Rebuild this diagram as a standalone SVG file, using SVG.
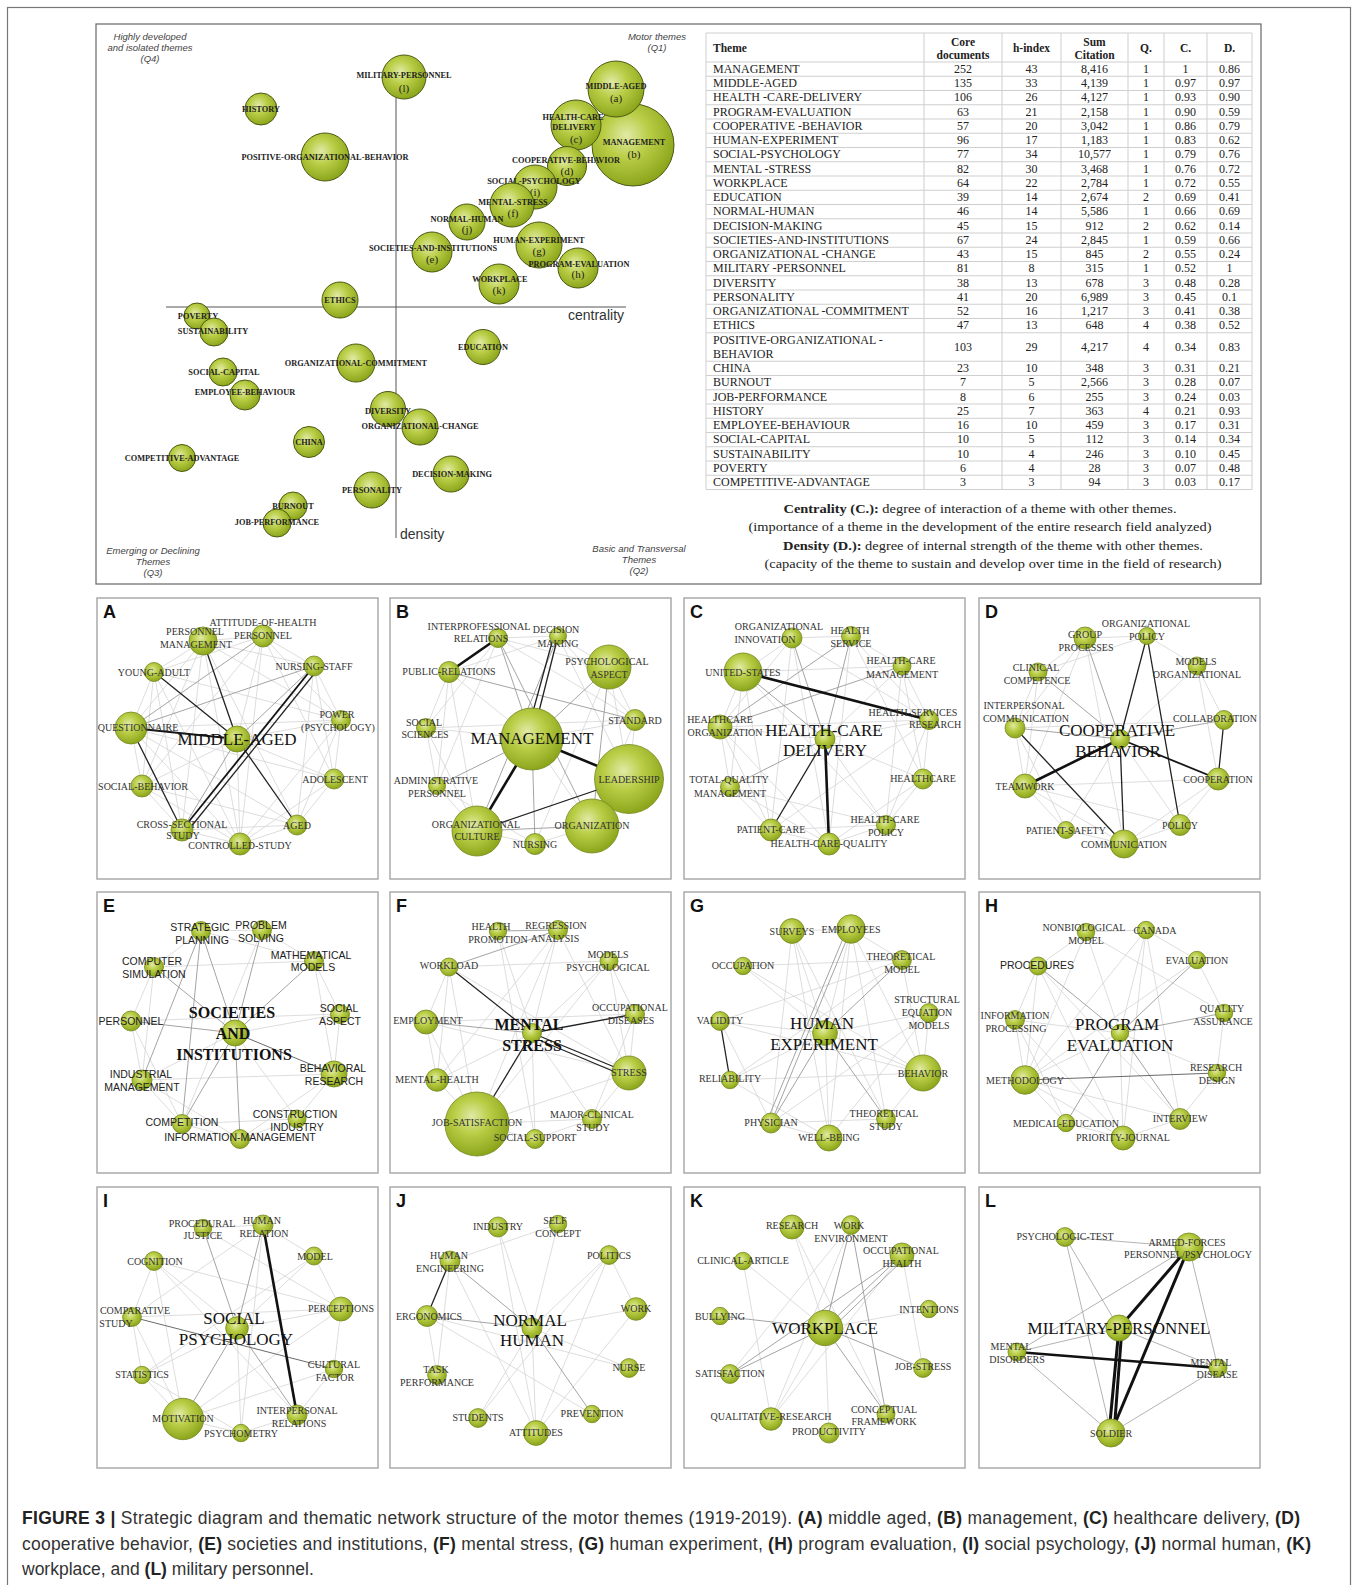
<svg xmlns="http://www.w3.org/2000/svg" width="1356" height="1585" viewBox="0 0 1356 1585">
<defs>
<radialGradient id="gr" cx="0.42" cy="0.38" r="0.62">
<stop offset="0" stop-color="#e1eaa6"/>
<stop offset="0.45" stop-color="#b9cd45"/>
<stop offset="1" stop-color="#8ca61c"/>
</radialGradient>
<style>
.frame{fill:none;stroke:#777;stroke-width:1.2}
.sbox{fill:#fff;stroke:#666;stroke-width:1.2}
.pbox{fill:#fff;stroke:#aaa;stroke-width:1.5}
.n{fill:url(#gr);stroke:#74891f;stroke-width:0.8}
.sn{fill:url(#gr);stroke:#4a5a12;stroke-width:1}
.l{stroke:#d4d4d4;stroke-width:0.8}
.m{stroke:#9a9a9a;stroke-width:0.9}
.m2{stroke:#6a6a6a;stroke-width:1}
.d{stroke:#222;stroke-width:1.3}
.d2{stroke:#151515;stroke-width:1.8}
.t{stroke:#111;stroke-width:2.6}
.lg{stroke:#aaa;stroke-width:0.9}
.tt{stroke:#111;stroke-width:3}
text{font-family:"Liberation Serif","Times New Roman",serif}
.nl,.nl tspan{font-size:10px;fill:#333;text-anchor:middle;dominant-baseline:central}
.ns,.ns tspan{font-family:"Liberation Sans",Arial,sans-serif;font-size:10.5px;fill:#222;text-anchor:middle;dominant-baseline:central}
.cl,.cl tspan{font-size:17px;fill:#111;text-anchor:middle;dominant-baseline:central}
.cb,.cb tspan{font-size:16px;font-weight:bold;fill:#111;text-anchor:middle;dominant-baseline:central}
.pl{font-family:"Liberation Sans",Arial,sans-serif;font-weight:bold;font-size:18px;fill:#111}
.sl{font-size:8.3px;font-weight:bold;fill:#222;text-anchor:middle;dominant-baseline:central}
.sk{font-size:11px;fill:#222;text-anchor:middle;dominant-baseline:central}
.q{font-family:"Liberation Sans",Arial,sans-serif;font-style:italic;font-size:9.5px;fill:#444;text-anchor:middle}
.ax{stroke:#555;stroke-width:1}
.axl{font-family:"Liberation Sans",Arial,sans-serif;font-size:14px;fill:#333}
.tb text{font-size:12px;fill:#222}
.tn text{text-anchor:middle}
.th text{font-size:11.5px;font-weight:bold;fill:#222}
.grid{stroke:#cfcfcf;stroke-width:1;fill:none}
.lgd{font-size:13px;fill:#222;text-anchor:middle}
.cap{font-family:"Liberation Sans",Arial,sans-serif;font-size:17.5px;fill:#333}
.b{font-weight:bold;fill:#222}
</style>
</defs>
<rect width="1356" height="1585" fill="#fff"/>
<rect class="frame" x="7.5" y="7.5" width="1343" height="1600"/>

<g id="strategic">
<rect class="sbox" x="96" y="24" width="1165" height="560"/>
<g id="quadrant-labels">
<text class="q" x="150" y="40">Highly developed</text>
<text class="q" x="150" y="51">and isolated themes</text>
<text class="q" x="150" y="62">(Q4)</text>
<text class="q" x="657" y="40">Motor themes</text>
<text class="q" x="657" y="51">(Q1)</text>
<text class="q" x="153" y="554">Emerging or Declining</text>
<text class="q" x="153" y="565">Themes</text>
<text class="q" x="153" y="576">(Q3)</text>
<text class="q" x="639" y="552">Basic and Transversal</text>
<text class="q" x="639" y="563">Themes</text>
<text class="q" x="639" y="574">(Q2)</text>
</g>
<g id="axes">
<line class="ax" x1="166" y1="307" x2="626" y2="307"/>
<line class="ax" x1="396" y1="85" x2="396" y2="538"/>
<text class="axl" x="568" y="320">centrality</text>
<text class="axl" x="400" y="539">density</text>
</g>
<g id="s-history"><circle class="sn" cx="261" cy="109" r="16"/><text class="sl" x="261" y="109">HISTORY</text></g>
<g id="s-positive-organizational-behavior"><circle class="sn" cx="325" cy="157" r="24"/><text class="sl" x="325" y="157">POSITIVE-ORGANIZATIONAL-BEHAVIOR</text></g>
<g id="s-military-personnel"><circle class="sn" cx="404" cy="77" r="22"/><text class="sl" x="404" y="75">MILITARY-PERSONNEL</text><text class="sk" x="404" y="88">(l)</text></g>
<g id="s-management"><circle class="sn" cx="633" cy="145" r="41"/><text class="sl" x="634" y="142">MANAGEMENT</text><text class="sk" x="634" y="154">(b)</text></g>
<g id="s-middle-aged"><circle class="sn" cx="616" cy="89" r="28"/><text class="sl" x="616" y="86">MIDDLE-AGED</text><text class="sk" x="616" y="98">(a)</text></g>
<g id="s-health-care-delivery"><circle class="sn" cx="576" cy="125" r="25"/><text class="sl" x="573" y="117">HEALTH-CARE</text><text class="sl" x="574" y="127">DELIVERY</text><text class="sk" x="576" y="139">(c)</text></g>
<g id="s-cooperative-behavior"><circle class="sn" cx="567" cy="166" r="19.5"/><text class="sl" x="566" y="160">COOPERATIVE-BEHAVIOR</text><text class="sk" x="567" y="171">(d)</text></g>
<g id="s-social-psychology"><circle class="sn" cx="535" cy="187" r="22"/><text class="sl" x="534" y="181">SOCIAL-PSYCHOLOGY</text><text class="sk" x="535" y="192">(i)</text></g>
<g id="s-mental-stress"><circle class="sn" cx="512" cy="205" r="22"/><text class="sl" x="513" y="202">MENTAL-STRESS</text><text class="sk" x="513" y="213">(f)</text></g>
<g id="s-normal-human"><circle class="sn" cx="467" cy="222" r="18"/><text class="sl" x="467" y="219">NORMAL-HUMAN</text><text class="sk" x="467" y="229">(j)</text></g>
<g id="s-societies-and-institutions"><circle class="sn" cx="432" cy="252" r="20"/><text class="sl" x="433" y="248">SOCIETIES-AND-INSTITUTIONS</text><text class="sk" x="432" y="259">(e)</text></g>
<g id="s-human-experiment"><circle class="sn" cx="539" cy="245" r="23"/><text class="sl" x="539" y="240">HUMAN-EXPERIMENT</text><text class="sk" x="539" y="251">(g)</text></g>
<g id="s-program-evaluation"><circle class="sn" cx="578" cy="268" r="20"/><text class="sl" x="579" y="264">PROGRAM-EVALUATION</text><text class="sk" x="578" y="274">(h)</text></g>
<g id="s-workplace"><circle class="sn" cx="499" cy="284" r="20"/><text class="sl" x="500" y="279">WORKPLACE</text><text class="sk" x="499" y="290">(k)</text></g>
<g id="s-ethics"><circle class="sn" cx="340" cy="300" r="18"/><text class="sl" x="340" y="300">ETHICS</text></g>
<g id="s-poverty"><circle class="sn" cx="197" cy="316" r="13"/><text class="sl" x="198" y="316">POVERTY</text></g>
<g id="s-sustainability"><circle class="sn" cx="214" cy="332" r="14"/><text class="sl" x="213" y="331">SUSTAINABILITY</text></g>
<g id="s-education"><circle class="sn" cx="483" cy="347" r="17.5"/><text class="sl" x="483" y="347">EDUCATION</text></g>
<g id="s-organizational-commitment"><circle class="sn" cx="356" cy="363" r="19"/><text class="sl" x="356" y="363">ORGANIZATIONAL-COMMITMENT</text></g>
<g id="s-social-capital"><circle class="sn" cx="223" cy="372" r="14"/><text class="sl" x="224" y="372">SOCIAL-CAPITAL</text></g>
<g id="s-employee-behaviour"><circle class="sn" cx="245" cy="395" r="15"/><text class="sl" x="245" y="392">EMPLOYEE-BEHAVIOUR</text></g>
<g id="s-diversity"><circle class="sn" cx="388" cy="409" r="17.5"/><text class="sl" x="388" y="411">DIVERSITY</text></g>
<g id="s-organizational-change"><circle class="sn" cx="420" cy="427" r="18"/><text class="sl" x="420" y="426">ORGANIZATIONAL-CHANGE</text></g>
<g id="s-china"><circle class="sn" cx="309" cy="442" r="15.5"/><text class="sl" x="309" y="442">CHINA</text></g>
<g id="s-competitive-advantage"><circle class="sn" cx="182" cy="458" r="13.5"/><text class="sl" x="182" y="458">COMPETITIVE-ADVANTAGE</text></g>
<g id="s-decision-making"><circle class="sn" cx="451" cy="474" r="18"/><text class="sl" x="452" y="474">DECISION-MAKING</text></g>
<g id="s-personality"><circle class="sn" cx="372" cy="490" r="18"/><text class="sl" x="372" y="490">PERSONALITY</text></g>
<g id="s-burnout"><circle class="sn" cx="293" cy="506" r="14"/><text class="sl" x="293" y="506">BURNOUT</text></g>
<g id="s-job-performance"><circle class="sn" cx="277" cy="523" r="14"/><text class="sl" x="277" y="522">JOB-PERFORMANCE</text></g>

<g id="table">
<path class="grid" d="M706 33H1252M706 62H1252M706 76.25H1252M706 90.5H1252M706 104.75H1252M706 119H1252M706 133.25H1252M706 147.5H1252M706 161.75H1252M706 176H1252M706 190.25H1252M706 204.5H1252M706 218.75H1252M706 233H1252M706 247.25H1252M706 261.5H1252M706 275.75H1252M706 290H1252M706 304.25H1252M706 318.5H1252M706 332.75H1252M706 361.25H1252M706 375.5H1252M706 389.75H1252M706 404H1252M706 418.25H1252M706 432.5H1252M706 446.75H1252M706 461H1252M706 475.25H1252M706 489.5H1252M706 33V489.5M924 33V489.5M1002 33V489.5M1061 33V489.5M1128 33V489.5M1164 33V489.5M1207 33V489.5M1252 33V489.5"/>
<g class="th">
<text x="713" y="52">Theme</text>
<text x="963" y="45.5" text-anchor="middle">Core</text>
<text x="963" y="58.5" text-anchor="middle">documents</text>
<text x="1031.5" y="52" text-anchor="middle">h-index</text>
<text x="1094.5" y="45.5" text-anchor="middle">Sum</text>
<text x="1094.5" y="58.5" text-anchor="middle">Citation</text>
<text x="1146" y="52" text-anchor="middle">Q.</text>
<text x="1185.5" y="52" text-anchor="middle">C.</text>
<text x="1229.5" y="52" text-anchor="middle">D.</text>
</g>
<g class="tb">
<text x="713" y="72.8">MANAGEMENT</text>
<text x="713" y="87.05">MIDDLE-AGED</text>
<text x="713" y="101.3">HEALTH -CARE-DELIVERY</text>
<text x="713" y="115.55">PROGRAM-EVALUATION</text>
<text x="713" y="129.8">COOPERATIVE -BEHAVIOR</text>
<text x="713" y="144.05">HUMAN-EXPERIMENT</text>
<text x="713" y="158.3">SOCIAL-PSYCHOLOGY</text>
<text x="713" y="172.55">MENTAL -STRESS</text>
<text x="713" y="186.8">WORKPLACE</text>
<text x="713" y="201.05">EDUCATION</text>
<text x="713" y="215.3">NORMAL-HUMAN</text>
<text x="713" y="229.55">DECISION-MAKING</text>
<text x="713" y="243.8">SOCIETIES-AND-INSTITUTIONS</text>
<text x="713" y="258.05">ORGANIZATIONAL -CHANGE</text>
<text x="713" y="272.3">MILITARY -PERSONNEL</text>
<text x="713" y="286.55">DIVERSITY</text>
<text x="713" y="300.8">PERSONALITY</text>
<text x="713" y="315.05">ORGANIZATIONAL -COMMITMENT</text>
<text x="713" y="329.3">ETHICS</text>
<text x="713" y="343.5">POSITIVE-ORGANIZATIONAL -</text>
<text x="713" y="357.8">BEHAVIOR</text>
<text x="713" y="372.05">CHINA</text>
<text x="713" y="386.3">BURNOUT</text>
<text x="713" y="400.55">JOB-PERFORMANCE</text>
<text x="713" y="414.8">HISTORY</text>
<text x="713" y="429.05">EMPLOYEE-BEHAVIOUR</text>
<text x="713" y="443.3">SOCIAL-CAPITAL</text>
<text x="713" y="457.55">SUSTAINABILITY</text>
<text x="713" y="471.8">POVERTY</text>
<text x="713" y="486.05">COMPETITIVE-ADVANTAGE</text>
</g>
<g class="tb tn">
<text x="963" y="72.8">252</text><text x="1031.5" y="72.8">43</text><text x="1094.5" y="72.8">8,416</text><text x="1146" y="72.8">1</text><text x="1185.5" y="72.8">1</text><text x="1229.5" y="72.8">0.86</text>
<text x="963" y="87.05">135</text><text x="1031.5" y="87.05">33</text><text x="1094.5" y="87.05">4,139</text><text x="1146" y="87.05">1</text><text x="1185.5" y="87.05">0.97</text><text x="1229.5" y="87.05">0.97</text>
<text x="963" y="101.3">106</text><text x="1031.5" y="101.3">26</text><text x="1094.5" y="101.3">4,127</text><text x="1146" y="101.3">1</text><text x="1185.5" y="101.3">0.93</text><text x="1229.5" y="101.3">0.90</text>
<text x="963" y="115.55">63</text><text x="1031.5" y="115.55">21</text><text x="1094.5" y="115.55">2,158</text><text x="1146" y="115.55">1</text><text x="1185.5" y="115.55">0.90</text><text x="1229.5" y="115.55">0.59</text>
<text x="963" y="129.8">57</text><text x="1031.5" y="129.8">20</text><text x="1094.5" y="129.8">3,042</text><text x="1146" y="129.8">1</text><text x="1185.5" y="129.8">0.86</text><text x="1229.5" y="129.8">0.79</text>
<text x="963" y="144.05">96</text><text x="1031.5" y="144.05">17</text><text x="1094.5" y="144.05">1,183</text><text x="1146" y="144.05">1</text><text x="1185.5" y="144.05">0.83</text><text x="1229.5" y="144.05">0.62</text>
<text x="963" y="158.3">77</text><text x="1031.5" y="158.3">34</text><text x="1094.5" y="158.3">10,577</text><text x="1146" y="158.3">1</text><text x="1185.5" y="158.3">0.79</text><text x="1229.5" y="158.3">0.76</text>
<text x="963" y="172.55">82</text><text x="1031.5" y="172.55">30</text><text x="1094.5" y="172.55">3,468</text><text x="1146" y="172.55">1</text><text x="1185.5" y="172.55">0.76</text><text x="1229.5" y="172.55">0.72</text>
<text x="963" y="186.8">64</text><text x="1031.5" y="186.8">22</text><text x="1094.5" y="186.8">2,784</text><text x="1146" y="186.8">1</text><text x="1185.5" y="186.8">0.72</text><text x="1229.5" y="186.8">0.55</text>
<text x="963" y="201.05">39</text><text x="1031.5" y="201.05">14</text><text x="1094.5" y="201.05">2,674</text><text x="1146" y="201.05">2</text><text x="1185.5" y="201.05">0.69</text><text x="1229.5" y="201.05">0.41</text>
<text x="963" y="215.3">46</text><text x="1031.5" y="215.3">14</text><text x="1094.5" y="215.3">5,586</text><text x="1146" y="215.3">1</text><text x="1185.5" y="215.3">0.66</text><text x="1229.5" y="215.3">0.69</text>
<text x="963" y="229.55">45</text><text x="1031.5" y="229.55">15</text><text x="1094.5" y="229.55">912</text><text x="1146" y="229.55">2</text><text x="1185.5" y="229.55">0.62</text><text x="1229.5" y="229.55">0.14</text>
<text x="963" y="243.8">67</text><text x="1031.5" y="243.8">24</text><text x="1094.5" y="243.8">2,845</text><text x="1146" y="243.8">1</text><text x="1185.5" y="243.8">0.59</text><text x="1229.5" y="243.8">0.66</text>
<text x="963" y="258.05">43</text><text x="1031.5" y="258.05">15</text><text x="1094.5" y="258.05">845</text><text x="1146" y="258.05">2</text><text x="1185.5" y="258.05">0.55</text><text x="1229.5" y="258.05">0.24</text>
<text x="963" y="272.3">81</text><text x="1031.5" y="272.3">8</text><text x="1094.5" y="272.3">315</text><text x="1146" y="272.3">1</text><text x="1185.5" y="272.3">0.52</text><text x="1229.5" y="272.3">1</text>
<text x="963" y="286.55">38</text><text x="1031.5" y="286.55">13</text><text x="1094.5" y="286.55">678</text><text x="1146" y="286.55">3</text><text x="1185.5" y="286.55">0.48</text><text x="1229.5" y="286.55">0.28</text>
<text x="963" y="300.8">41</text><text x="1031.5" y="300.8">20</text><text x="1094.5" y="300.8">6,989</text><text x="1146" y="300.8">3</text><text x="1185.5" y="300.8">0.45</text><text x="1229.5" y="300.8">0.1</text>
<text x="963" y="315.05">52</text><text x="1031.5" y="315.05">16</text><text x="1094.5" y="315.05">1,217</text><text x="1146" y="315.05">3</text><text x="1185.5" y="315.05">0.41</text><text x="1229.5" y="315.05">0.38</text>
<text x="963" y="329.3">47</text><text x="1031.5" y="329.3">13</text><text x="1094.5" y="329.3">648</text><text x="1146" y="329.3">4</text><text x="1185.5" y="329.3">0.38</text><text x="1229.5" y="329.3">0.52</text>
<text x="963" y="350.7">103</text><text x="1031.5" y="350.7">29</text><text x="1094.5" y="350.7">4,217</text><text x="1146" y="350.7">4</text><text x="1185.5" y="350.7">0.34</text><text x="1229.5" y="350.7">0.83</text>
<text x="963" y="372.05">23</text><text x="1031.5" y="372.05">10</text><text x="1094.5" y="372.05">348</text><text x="1146" y="372.05">3</text><text x="1185.5" y="372.05">0.31</text><text x="1229.5" y="372.05">0.21</text>
<text x="963" y="386.3">7</text><text x="1031.5" y="386.3">5</text><text x="1094.5" y="386.3">2,566</text><text x="1146" y="386.3">3</text><text x="1185.5" y="386.3">0.28</text><text x="1229.5" y="386.3">0.07</text>
<text x="963" y="400.55">8</text><text x="1031.5" y="400.55">6</text><text x="1094.5" y="400.55">255</text><text x="1146" y="400.55">3</text><text x="1185.5" y="400.55">0.24</text><text x="1229.5" y="400.55">0.03</text>
<text x="963" y="414.8">25</text><text x="1031.5" y="414.8">7</text><text x="1094.5" y="414.8">363</text><text x="1146" y="414.8">4</text><text x="1185.5" y="414.8">0.21</text><text x="1229.5" y="414.8">0.93</text>
<text x="963" y="429.05">16</text><text x="1031.5" y="429.05">10</text><text x="1094.5" y="429.05">459</text><text x="1146" y="429.05">3</text><text x="1185.5" y="429.05">0.17</text><text x="1229.5" y="429.05">0.31</text>
<text x="963" y="443.3">10</text><text x="1031.5" y="443.3">5</text><text x="1094.5" y="443.3">112</text><text x="1146" y="443.3">3</text><text x="1185.5" y="443.3">0.14</text><text x="1229.5" y="443.3">0.34</text>
<text x="963" y="457.55">10</text><text x="1031.5" y="457.55">4</text><text x="1094.5" y="457.55">246</text><text x="1146" y="457.55">3</text><text x="1185.5" y="457.55">0.10</text><text x="1229.5" y="457.55">0.45</text>
<text x="963" y="471.8">6</text><text x="1031.5" y="471.8">4</text><text x="1094.5" y="471.8">28</text><text x="1146" y="471.8">3</text><text x="1185.5" y="471.8">0.07</text><text x="1229.5" y="471.8">0.48</text>
<text x="963" y="486.05">3</text><text x="1031.5" y="486.05">3</text><text x="1094.5" y="486.05">94</text><text x="1146" y="486.05">3</text><text x="1185.5" y="486.05">0.03</text><text x="1229.5" y="486.05">0.17</text>
</g>
</g>
<g id="legend">
<text class="lgd" x="980" y="513" textLength="393" lengthAdjust="spacingAndGlyphs"><tspan font-weight="bold">Centrality (C.):</tspan> degree of interaction of a theme with other themes.</text>
<text class="lgd" x="980" y="531" textLength="463" lengthAdjust="spacingAndGlyphs">(importance of a theme in the development of the entire research field analyzed)</text>
<text class="lgd" x="993" y="550" textLength="420" lengthAdjust="spacingAndGlyphs"><tspan font-weight="bold">Density (D.):</tspan> degree of internal strength of the theme with other themes.</text>
<text class="lgd" x="993" y="568" textLength="457" lengthAdjust="spacingAndGlyphs">(capacity of the theme to sustain and develop over time in the field of research)</text>
</g>
</g>

<!-- Panel A -->
<g id="panel-A" transform="translate(97 598)">
<rect class="pbox" width="281" height="281"/>
<text class="pl" x="6" y="20">A</text>
<g id="A-connectors">
<line class="l" x1="106" y1="43" x2="57" y2="74"/><line class="l" x1="106" y1="43" x2="166" y2="38"/><line class="l" x1="106" y1="43" x2="34" y2="130"/><line class="l" x1="106" y1="43" x2="217" y2="68"/><line class="l" x1="106" y1="43" x2="45" y2="188"/><line class="l" x1="106" y1="43" x2="85" y2="232"/><line class="l" x1="106" y1="43" x2="143" y2="246"/><line class="l" x1="106" y1="43" x2="200" y2="227"/><line class="l" x1="106" y1="43" x2="244" y2="122"/>
<line class="l" x1="166" y1="38" x2="217" y2="68"/><line class="l" x1="166" y1="38" x2="57" y2="74"/><line class="l" x1="166" y1="38" x2="244" y2="122"/><line class="l" x1="166" y1="38" x2="237" y2="181"/><line class="l" x1="166" y1="38" x2="143" y2="246"/><line class="l" x1="166" y1="38" x2="140" y2="141"/><line class="l" x1="166" y1="38" x2="45" y2="188"/>
<line class="l" x1="57" y1="74" x2="34" y2="130"/><line class="l" x1="57" y1="74" x2="45" y2="188"/><line class="l" x1="57" y1="74" x2="85" y2="232"/><line class="l" x1="57" y1="74" x2="143" y2="246"/><line class="l" x1="57" y1="74" x2="244" y2="122"/>
<line class="l" x1="217" y1="68" x2="244" y2="122"/><line class="l" x1="217" y1="68" x2="237" y2="181"/><line class="l" x1="217" y1="68" x2="200" y2="227"/>
<line class="l" x1="34" y1="130" x2="45" y2="188"/><line class="l" x1="34" y1="130" x2="143" y2="246"/><line class="l" x1="34" y1="130" x2="200" y2="227"/><line class="l" x1="34" y1="130" x2="244" y2="122"/><line class="l" x1="34" y1="130" x2="237" y2="181"/>
<line class="l" x1="244" y1="122" x2="237" y2="181"/><line class="l" x1="244" y1="122" x2="200" y2="227"/><line class="l" x1="244" y1="122" x2="143" y2="246"/><line class="l" x1="244" y1="122" x2="140" y2="141"/>
<line class="l" x1="237" y1="181" x2="200" y2="227"/><line class="l" x1="237" y1="181" x2="143" y2="246"/><line class="l" x1="237" y1="181" x2="140" y2="141"/>
<line class="l" x1="45" y1="188" x2="85" y2="232"/><line class="l" x1="45" y1="188" x2="143" y2="246"/><line class="l" x1="45" y1="188" x2="140" y2="141"/><line class="l" x1="45" y1="188" x2="200" y2="227"/>
<line class="l" x1="85" y1="232" x2="143" y2="246"/><line class="l" x1="85" y1="232" x2="200" y2="227"/><line class="l" x1="143" y1="246" x2="200" y2="227"/><line class="l" x1="143" y1="246" x2="140" y2="141"/>
<line class="m" x1="34" y1="130" x2="166" y2="38"/><line class="m" x1="34" y1="130" x2="217" y2="68"/><line class="m" x1="217" y1="68" x2="140" y2="141"/><line class="m" x1="85" y1="232" x2="140" y2="141"/>
<line class="d" x1="106" y1="43" x2="140" y2="141"/><line class="d2" x1="34" y1="130" x2="140" y2="141"/><line class="d" x1="57" y1="74" x2="140" y2="141"/><line class="d" x1="140" y1="141" x2="200" y2="227"/><line class="d" x1="34" y1="130" x2="85" y2="232" stroke-width="1"/><line class="d2" x1="217" y1="68" x2="85" y2="232" stroke-width="1.5"/><line class="d" x1="221" y1="71" x2="89" y2="235"/>
</g>
<g id="A-personnel-management"><circle class="n" cx="106" cy="43" r="14"/><text class="nl"><tspan x="98" y="33">PERSONNEL</tspan><tspan x="99" y="46">MANAGEMENT</tspan></text></g>
<g id="A-attitude-of-health-personnel"><circle class="n" cx="166" cy="38" r="11"/><text class="nl"><tspan x="166" y="24">ATTITUDE-OF-HEALTH</tspan><tspan x="166" y="37">PERSONNEL</tspan></text></g>
<g id="A-young-adult"><circle class="n" cx="57" cy="74" r="9.5"/><text class="nl" x="57" y="74">YOUNG-ADULT</text></g>
<g id="A-nursing-staff"><circle class="n" cx="217" cy="68" r="10"/><text class="nl" x="217" y="68">NURSING-STAFF</text></g>
<g id="A-questionnaire"><circle class="n" cx="34" cy="130" r="16"/><text class="nl" x="41" y="129">QUESTIONNAIRE</text></g>
<g id="A-power-psychology"><circle class="n" cx="244" cy="122" r="9.5"/><text class="nl"><tspan x="240" y="116">POWER</tspan><tspan x="241" y="129">(PSYCHOLOGY)</tspan></text></g>
<g id="A-adolescent"><circle class="n" cx="237" cy="181" r="10"/><text class="nl" x="238" y="181">ADOLESCENT</text></g>
<g id="A-social-behavior"><circle class="n" cx="45" cy="188" r="11"/><text class="nl" x="46" y="188">SOCIAL-BEHAVIOR</text></g>
<g id="A-cross-sectional-study"><circle class="n" cx="85" cy="232" r="11"/><text class="nl"><tspan x="85" y="226">CROSS-SECTIONAL</tspan><tspan x="86" y="237">STUDY</tspan></text></g>
<g id="A-aged"><circle class="n" cx="200" cy="227" r="10"/><text class="nl" x="200" y="227">AGED</text></g>
<g id="A-controlled-study"><circle class="n" cx="143" cy="246" r="11"/><text class="nl" x="143" y="247">CONTROLLED-STUDY</text></g>
<g id="A-middle-aged"><circle class="n" cx="140" cy="141" r="13"/><text class="cl" x="140" y="141">MIDDLE-AGED</text></g>
</g>

<!-- Panel B -->
<g id="panel-B" transform="translate(390 598)">
<rect class="pbox" width="281" height="281"/>
<text class="pl" x="6" y="20">B</text>
<g id="B-connectors">
<line class="l" x1="59" y1="74" x2="36" y2="130"/><line class="l" x1="59" y1="74" x2="47" y2="188"/><line class="l" x1="59" y1="74" x2="87" y2="233"/><line class="l" x1="59" y1="74" x2="142" y2="141"/><line class="l" x1="59" y1="74" x2="168" y2="38"/>
<line class="l" x1="108" y1="40" x2="168" y2="38"/><line class="l" x1="108" y1="40" x2="219" y2="69"/><line class="l" x1="108" y1="40" x2="36" y2="130"/><line class="l" x1="108" y1="40" x2="245" y2="122"/>
<line class="l" x1="168" y1="38" x2="219" y2="69"/><line class="l" x1="168" y1="38" x2="245" y2="122"/><line class="l" x1="168" y1="38" x2="239" y2="181"/>
<line class="l" x1="219" y1="69" x2="245" y2="122"/><line class="l" x1="219" y1="69" x2="239" y2="181"/>
<line class="l" x1="36" y1="130" x2="142" y2="141"/><line class="l" x1="36" y1="130" x2="47" y2="188"/><line class="l" x1="36" y1="130" x2="87" y2="233"/>
<line class="l" x1="245" y1="122" x2="239" y2="181"/><line class="l" x1="245" y1="122" x2="142" y2="141"/><line class="l" x1="245" y1="122" x2="202" y2="228"/>
<line class="l" x1="47" y1="188" x2="87" y2="233"/><line class="l" x1="47" y1="188" x2="145" y2="246"/><line class="l" x1="87" y1="233" x2="145" y2="246"/><line class="l" x1="145" y1="246" x2="202" y2="228"/><line class="l" x1="202" y1="228" x2="239" y2="181"/><line class="l" x1="142" y1="141" x2="202" y2="228"/><line class="l" x1="36" y1="130" x2="245" y2="122"/><line class="l" x1="108" y1="40" x2="47" y2="188"/><line class="l" x1="219" y1="69" x2="145" y2="246"/>
<line class="m" x1="142" y1="141" x2="108" y2="40"/><line class="m" x1="59" y1="74" x2="245" y2="122"/><line class="m" x1="142" y1="141" x2="219" y2="69"/><line class="m" x1="219" y1="69" x2="202" y2="228"/><line class="m" x1="108" y1="40" x2="202" y2="228"/><line class="m" x1="87" y1="233" x2="202" y2="228"/><line class="m" x1="142" y1="141" x2="145" y2="246"/><line class="m" x1="142" y1="141" x2="47" y2="188"/><line class="m" x1="168" y1="38" x2="87" y2="233"/>
<line class="d" x1="142" y1="141" x2="168" y2="38"/><line class="d" x1="136" y1="139" x2="164" y2="37"/><line class="d" x1="87" y1="233" x2="239" y2="181"/>
<line class="t" x1="108" y1="40" x2="59" y2="74"/><line class="t" x1="142" y1="141" x2="239" y2="181"/><line class="t" x1="142" y1="141" x2="87" y2="233"/>
</g>
<g id="B-interprofessional-relations"><circle class="n" cx="108" cy="40" r="9.5"/><text class="nl"><tspan x="89" y="28">INTERPROFESSIONAL</tspan><tspan x="91" y="40">RELATIONS</tspan></text></g>
<g id="B-decision-making"><circle class="n" cx="168" cy="38" r="8.5"/><text class="nl"><tspan x="166" y="31">DECISION</tspan><tspan x="168" y="45">MAKING</tspan></text></g>
<g id="B-public-relations"><circle class="n" cx="59" cy="74" r="10.5"/><text class="nl" x="59" y="73">PUBLIC-RELATIONS</text></g>
<g id="B-psychological-aspect"><circle class="n" cx="219" cy="69" r="22"/><text class="nl"><tspan x="217" y="63">PSYCHOLOGICAL</tspan><tspan x="219" y="76">ASPECT</tspan></text></g>
<g id="B-social-sciences"><circle class="n" cx="36" cy="130" r="9.5"/><text class="nl"><tspan x="34" y="124">SOCIAL</tspan><tspan x="35" y="136">SCIENCES</tspan></text></g>
<g id="B-standard"><circle class="n" cx="245" cy="122" r="10.5"/><text class="nl" x="245" y="122">STANDARD</text></g>
<g id="B-leadership"><circle class="n" cx="239" cy="181" r="34.5"/><text class="nl" x="239" y="181">LEADERSHIP</text></g>
<g id="B-administrative-personnel"><circle class="n" cx="47" cy="188" r="8.5"/><text class="nl"><tspan x="46" y="182">ADMINISTRATIVE</tspan><tspan x="47" y="195">PERSONNEL</tspan></text></g>
<g id="B-organization"><circle class="n" cx="202" cy="228" r="27"/><text class="nl" x="202" y="227">ORGANIZATION</text></g>
<g id="B-nursing"><circle class="n" cx="145" cy="246" r="10.5"/><text class="nl" x="145" y="246">NURSING</text></g>
<g id="B-organizational-culture"><circle class="n" cx="87" cy="233" r="25"/><text class="nl"><tspan x="86" y="226">ORGANIZATIONAL</tspan><tspan x="87" y="238">CULTURE</tspan></text></g>
<g id="B-management"><circle class="n" cx="142" cy="141" r="31"/><text class="cl" x="142" y="140">MANAGEMENT</text></g>
</g>

<!-- Panel C -->
<g id="panel-C" transform="translate(684 598)">
<rect class="pbox" width="281" height="281"/>
<text class="pl" x="6" y="20">C</text>
<g id="C-connectors">
<line class="l" x1="108" y1="40" x2="167" y2="38"/><line class="l" x1="108" y1="40" x2="59" y2="74"/><line class="l" x1="108" y1="40" x2="36" y2="129"/><line class="l" x1="108" y1="40" x2="87" y2="232"/><line class="l" x1="108" y1="40" x2="245" y2="122"/>
<line class="l" x1="167" y1="38" x2="218" y2="68"/><line class="l" x1="167" y1="38" x2="245" y2="122"/><line class="l" x1="167" y1="38" x2="239" y2="181"/><line class="l" x1="167" y1="38" x2="145" y2="246"/>
<line class="l" x1="59" y1="74" x2="36" y2="129"/><line class="l" x1="59" y1="74" x2="46" y2="189"/><line class="l" x1="59" y1="74" x2="87" y2="232"/><line class="l" x1="59" y1="74" x2="218" y2="68"/>
<line class="l" x1="218" y1="68" x2="245" y2="122"/><line class="l" x1="218" y1="68" x2="141" y2="141"/><line class="l" x1="218" y1="68" x2="239" y2="181"/><line class="l" x1="218" y1="68" x2="202" y2="227"/>
<line class="l" x1="245" y1="122" x2="239" y2="181"/><line class="l" x1="245" y1="122" x2="141" y2="141"/><line class="l" x1="245" y1="122" x2="202" y2="227"/><line class="l" x1="245" y1="122" x2="87" y2="232"/>
<line class="l" x1="36" y1="129" x2="46" y2="189"/><line class="l" x1="36" y1="129" x2="141" y2="141"/><line class="l" x1="36" y1="129" x2="87" y2="232"/><line class="l" x1="36" y1="129" x2="145" y2="246"/><line class="l" x1="36" y1="129" x2="245" y2="122"/>
<line class="l" x1="46" y1="189" x2="87" y2="232"/><line class="l" x1="46" y1="189" x2="145" y2="246"/><line class="l" x1="46" y1="189" x2="202" y2="227"/>
<line class="l" x1="239" y1="181" x2="202" y2="227"/><line class="l" x1="239" y1="181" x2="145" y2="246"/><line class="l" x1="239" y1="181" x2="141" y2="141"/>
<line class="l" x1="87" y1="232" x2="145" y2="246"/><line class="l" x1="87" y1="232" x2="202" y2="227"/><line class="l" x1="202" y1="227" x2="145" y2="246"/><line class="l" x1="141" y1="141" x2="202" y2="227"/><line class="l" x1="108" y1="40" x2="145" y2="246"/><line class="l" x1="59" y1="74" x2="202" y2="227"/>
<line class="m" x1="108" y1="40" x2="141" y2="141"/><line class="m" x1="167" y1="38" x2="141" y2="141"/><line class="m" x1="167" y1="38" x2="36" y2="129"/><line class="m" x1="218" y1="68" x2="36" y2="129"/><line class="m" x1="141" y1="141" x2="46" y2="189"/><line class="m" x1="59" y1="74" x2="141" y2="141"/>
<line class="d" x1="141" y1="141" x2="87" y2="232"/>
<line class="t" x1="59" y1="74" x2="245" y2="122"/><line class="t" x1="141" y1="141" x2="145" y2="246"/>
</g>
<g id="C-organizational-innovation"><circle class="n" cx="108" cy="40" r="10"/><text class="nl"><tspan x="95" y="28">ORGANIZATIONAL</tspan><tspan x="81" y="41">INNOVATION</tspan></text></g>
<g id="C-health-service"><circle class="n" cx="167" cy="38" r="9.5"/><text class="nl"><tspan x="166" y="32">HEALTH</tspan><tspan x="167" y="45">SERVICE</tspan></text></g>
<g id="C-united-states"><circle class="n" cx="59" cy="74" r="19"/><text class="nl" x="59" y="74">UNITED-STATES</text></g>
<g id="C-health-care-management"><circle class="n" cx="218" cy="68" r="9"/><text class="nl"><tspan x="217" y="62">HEALTH-CARE</tspan><tspan x="218" y="76">MANAGEMENT</tspan></text></g>
<g id="C-health-services-research"><circle class="n" cx="245" cy="122" r="9.5"/><text class="nl"><tspan x="229" y="114">HEALTH-SERVICES</tspan><tspan x="251" y="126">RESEARCH</tspan></text></g>
<g id="C-healthcare-organization"><circle class="n" cx="36" cy="129" r="12"/><text class="nl"><tspan x="36" y="121">HEALTHCARE</tspan><tspan x="41" y="134">ORGANIZATION</tspan></text></g>
<g id="C-total-quality-management"><circle class="n" cx="46" cy="189" r="9.5"/><text class="nl"><tspan x="45" y="181">TOTAL-QUALITY</tspan><tspan x="46" y="195">MANAGEMENT</tspan></text></g>
<g id="C-healthcare"><circle class="n" cx="239" cy="181" r="10"/><text class="nl" x="239" y="180">HEALTHCARE</text></g>
<g id="C-patient-care"><circle class="n" cx="87" cy="232" r="11"/><text class="nl" x="87" y="231">PATIENT-CARE</text></g>
<g id="C-health-care-policy"><circle class="n" cx="202" cy="227" r="9.5"/><text class="nl"><tspan x="201" y="221">HEALTH-CARE</tspan><tspan x="202" y="234">POLICY</tspan></text></g>
<g id="C-health-care-quality"><circle class="n" cx="145" cy="246" r="11"/><text class="nl" x="145" y="245">HEALTH-CARE-QUALITY</text></g>
<g id="C-health-care-delivery"><circle class="n" cx="141" cy="141" r="10"/><text class="cl"><tspan x="140" y="132">HEALTH-CARE</tspan><tspan x="141" y="152">DELIVERY</tspan></text></g>
</g>

<!-- Panel D -->
<g id="panel-D" transform="translate(979 598)">
<rect class="pbox" width="281" height="281"/>
<text class="pl" x="6" y="20">D</text>
<g id="D-connectors">
<line class="l" x1="106" y1="40" x2="59" y2="74"/><line class="l" x1="106" y1="40" x2="168" y2="38"/><line class="l" x1="168" y1="38" x2="218" y2="68"/><line class="l" x1="218" y1="68" x2="245" y2="122"/><line class="l" x1="218" y1="68" x2="141" y2="141"/><line class="l" x1="59" y1="74" x2="36" y2="130"/><line class="l" x1="36" y1="130" x2="46" y2="188"/><line class="l" x1="46" y1="188" x2="87" y2="232"/><line class="l" x1="87" y1="232" x2="145" y2="246"/><line class="l" x1="145" y1="246" x2="201" y2="227"/><line class="l" x1="201" y1="227" x2="239" y2="181"/><line class="l" x1="46" y1="188" x2="145" y2="246"/><line class="l" x1="36" y1="130" x2="87" y2="232"/><line class="l" x1="59" y1="74" x2="46" y2="188"/><line class="l" x1="106" y1="40" x2="36" y2="130"/><line class="l" x1="46" y1="188" x2="239" y2="181"/><line class="l" x1="87" y1="232" x2="141" y2="141"/><line class="l" x1="201" y1="227" x2="141" y2="141"/><line class="l" x1="145" y1="246" x2="239" y2="181"/><line class="l" x1="106" y1="40" x2="145" y2="246"/><line class="l" x1="168" y1="38" x2="59" y2="74"/><line class="l" x1="218" y1="68" x2="239" y2="181"/><line class="l" x1="36" y1="130" x2="245" y2="122"/><line class="l" x1="46" y1="188" x2="201" y2="227"/><line class="l" x1="106" y1="40" x2="46" y2="188"/>
<line class="m" x1="36" y1="130" x2="141" y2="141"/><line class="m" x1="106" y1="40" x2="141" y2="141"/><line class="m" x1="141" y1="141" x2="245" y2="122"/><line class="m" x1="59" y1="74" x2="141" y2="141"/>
<line class="d" x1="168" y1="38" x2="141" y2="141" stroke-width="1.1"/><line class="d" x1="168" y1="38" x2="201" y2="227" stroke-width="1.1"/><line class="d" x1="36" y1="130" x2="145" y2="246" stroke-width="1"/><line class="d" x1="141" y1="141" x2="145" y2="246" stroke-width="1"/><line class="d" x1="245" y1="122" x2="239" y2="181" stroke-width="1"/>
<line class="d2" x1="141" y1="141" x2="239" y2="181"/>
<line class="t" x1="46" y1="188" x2="141" y2="141"/>
</g>
<g id="D-group-processes"><circle class="n" cx="106" cy="40" r="11"/><text class="nl"><tspan x="106" y="36">GROUP</tspan><tspan x="107" y="49">PROCESSES</tspan></text></g>
<g id="D-organizational-policy"><circle class="n" cx="168" cy="38" r="8.5"/><text class="nl"><tspan x="167" y="25">ORGANIZATIONAL</tspan><tspan x="168" y="38">POLICY</tspan></text></g>
<g id="D-clinical-competence"><circle class="n" cx="59" cy="74" r="9"/><text class="nl"><tspan x="57" y="69">CLINICAL</tspan><tspan x="58" y="82">COMPETENCE</tspan></text></g>
<g id="D-models-organizational"><circle class="n" cx="218" cy="68" r="9"/><text class="nl"><tspan x="217" y="63">MODELS</tspan><tspan x="218" y="76">ORGANIZATIONAL</tspan></text></g>
<g id="D-interpersonal-communication"><circle class="n" cx="36" cy="130" r="10"/><text class="nl"><tspan x="45" y="107">INTERPERSONAL</tspan><tspan x="47" y="120">COMMUNICATION</tspan></text></g>
<g id="D-collaboration"><circle class="n" cx="245" cy="122" r="9.5"/><text class="nl" x="236" y="120">COLLABORATION</text></g>
<g id="D-teamwork"><circle class="n" cx="46" cy="188" r="12"/><text class="nl" x="46" y="188">TEAMWORK</text></g>
<g id="D-cooperation"><circle class="n" cx="239" cy="181" r="11"/><text class="nl" x="239" y="181">COOPERATION</text></g>
<g id="D-patient-safety"><circle class="n" cx="87" cy="232" r="8.5"/><text class="nl" x="87" y="232">PATIENT-SAFETY</text></g>
<g id="D-policy"><circle class="n" cx="201" cy="227" r="10.5"/><text class="nl" x="201" y="227">POLICY</text></g>
<g id="D-communication"><circle class="n" cx="145" cy="246" r="14"/><text class="nl" x="145" y="246">COMMUNICATION</text></g>
<g id="D-cooperative-behavior"><circle class="n" cx="141" cy="141" r="9.5"/><text class="cl"><tspan x="138" y="132">COOPERATIVE</tspan><tspan x="139" y="153">BEHAVIOR</tspan></text></g>
</g>

<!-- Panel E -->
<g id="panel-E" transform="translate(97 892)">
<rect class="pbox" width="281" height="281"/>
<text class="pl" x="6" y="20">E</text>
<g id="E-connectors">
<line class="l" x1="243" y1="122" x2="138" y2="141"/><line class="l" x1="57" y1="75" x2="217" y2="69"/><line class="l" x1="104" y1="39" x2="165" y2="38"/><line class="l" x1="34" y1="129" x2="45" y2="188"/><line class="l" x1="34" y1="129" x2="85" y2="232"/><line class="l" x1="45" y1="188" x2="85" y2="232"/><line class="l" x1="85" y1="232" x2="143" y2="247"/><line class="l" x1="143" y1="247" x2="200" y2="227"/><line class="l" x1="200" y1="227" x2="237" y2="182"/><line class="l" x1="237" y1="182" x2="243" y2="122"/><line class="l" x1="243" y1="122" x2="217" y2="69"/><line class="l" x1="45" y1="188" x2="237" y2="182"/><line class="l" x1="34" y1="129" x2="243" y2="122"/><line class="l" x1="57" y1="75" x2="34" y2="129"/><line class="l" x1="104" y1="39" x2="57" y2="75"/><line class="l" x1="165" y1="38" x2="217" y2="69"/><line class="l" x1="138" y1="141" x2="200" y2="227"/><line class="l" x1="138" y1="141" x2="45" y2="188"/><line class="l" x1="57" y1="75" x2="45" y2="188"/><line class="l" x1="217" y1="69" x2="237" y2="182"/><line class="l" x1="165" y1="38" x2="85" y2="232"/><line class="l" x1="104" y1="39" x2="217" y2="69"/><line class="l" x1="45" y1="188" x2="143" y2="247"/><line class="l" x1="85" y1="232" x2="200" y2="227"/><line class="l" x1="237" y1="182" x2="143" y2="247"/>
<line class="m" x1="104" y1="39" x2="138" y2="141"/><line class="m" x1="165" y1="38" x2="138" y2="141"/><line class="m" x1="57" y1="75" x2="138" y2="141"/><line class="m" x1="217" y1="69" x2="138" y2="141"/><line class="m" x1="34" y1="129" x2="138" y2="141"/><line class="m" x1="138" y1="141" x2="143" y2="247"/><line class="m" x1="138" y1="141" x2="85" y2="232"/><line class="m" x1="104" y1="39" x2="45" y2="188"/><line class="m" x1="104" y1="39" x2="85" y2="232"/>
<line class="m2" x1="138" y1="141" x2="237" y2="182"/>
</g>
<g id="E-strategic-planning"><circle class="n" cx="104" cy="39" r="9.5"/><text class="ns"><tspan x="103" y="35">STRATEGIC</tspan><tspan x="105" y="48">PLANNING</tspan></text></g>
<g id="E-problem-solving"><circle class="n" cx="165" cy="38" r="9.5"/><text class="ns"><tspan x="164" y="33">PROBLEM</tspan><tspan x="164" y="46">SOLVING</tspan></text></g>
<g id="E-computer-simulation"><circle class="n" cx="57" cy="75" r="9.5"/><text class="ns"><tspan x="55" y="69">COMPUTER</tspan><tspan x="57" y="82">SIMULATION</tspan></text></g>
<g id="E-mathematical-models"><circle class="n" cx="217" cy="69" r="9.5"/><text class="ns"><tspan x="214" y="63">MATHEMATICAL</tspan><tspan x="216" y="75">MODELS</tspan></text></g>
<g id="E-personnel"><circle class="n" cx="34" cy="129" r="10"/><text class="ns" x="34" y="129">PERSONNEL</text></g>
<g id="E-social-aspect"><circle class="n" cx="243" cy="122" r="9.5"/><text class="ns"><tspan x="242" y="116">SOCIAL</tspan><tspan x="243" y="129">ASPECT</tspan></text></g>
<g id="E-industrial-management"><circle class="n" cx="45" cy="188" r="10"/><text class="ns"><tspan x="44" y="182">INDUSTRIAL</tspan><tspan x="45" y="195">MANAGEMENT</tspan></text></g>
<g id="E-behavioral-research"><circle class="n" cx="237" cy="182" r="13"/><text class="ns"><tspan x="236" y="176">BEHAVIORAL</tspan><tspan x="237" y="189">RESEARCH</tspan></text></g>
<g id="E-competition"><circle class="n" cx="85" cy="232" r="9.5"/><text class="ns" x="85" y="230">COMPETITION</text></g>
<g id="E-construction-industry"><circle class="n" cx="200" cy="227" r="9"/><text class="ns"><tspan x="198" y="222">CONSTRUCTION</tspan><tspan x="200" y="235">INDUSTRY</tspan></text></g>
<g id="E-information-management"><circle class="n" cx="143" cy="247" r="9.5"/><text class="ns" x="143" y="245">INFORMATION-MANAGEMENT</text></g>
<g id="E-societies-and-institutions"><circle class="n" cx="138" cy="141" r="13"/><text class="cb"><tspan x="135" y="120">SOCIETIES</tspan><tspan x="136" y="141">AND</tspan><tspan x="137" y="162">INSTITUTIONS</tspan></text></g>
</g>

<!-- Panel F -->
<g id="panel-F" transform="translate(390 892)">
<rect class="pbox" width="281" height="281"/>
<text class="pl" x="6" y="20">F</text>
<g id="F-connectors">
<line class="l" x1="108" y1="39" x2="142" y2="141"/><line class="l" x1="168" y1="38" x2="142" y2="141"/><line class="l" x1="219" y1="69" x2="142" y2="141"/><line class="l" x1="59" y1="75" x2="36" y2="130"/><line class="l" x1="59" y1="75" x2="47" y2="188"/><line class="l" x1="59" y1="75" x2="87" y2="232"/><line class="l" x1="36" y1="130" x2="47" y2="188"/><line class="l" x1="36" y1="130" x2="87" y2="232"/><line class="l" x1="47" y1="188" x2="87" y2="232"/><line class="l" x1="87" y1="232" x2="145" y2="247"/><line class="l" x1="87" y1="232" x2="202" y2="227"/><line class="l" x1="145" y1="247" x2="202" y2="227"/><line class="l" x1="202" y1="227" x2="239" y2="181"/><line class="l" x1="239" y1="181" x2="245" y2="122"/><line class="l" x1="245" y1="122" x2="219" y2="69"/><line class="l" x1="219" y1="69" x2="59" y2="75"/><line class="l" x1="168" y1="38" x2="239" y2="181"/><line class="l" x1="168" y1="38" x2="47" y2="188"/><line class="l" x1="108" y1="39" x2="145" y2="247"/><line class="l" x1="142" y1="141" x2="145" y2="247"/><line class="l" x1="142" y1="141" x2="202" y2="227"/><line class="l" x1="142" y1="141" x2="47" y2="188"/><line class="l" x1="36" y1="130" x2="239" y2="181"/><line class="l" x1="219" y1="69" x2="239" y2="181"/><line class="l" x1="245" y1="122" x2="202" y2="227"/><line class="l" x1="59" y1="75" x2="239" y2="181"/><line class="l" x1="87" y1="232" x2="239" y2="181"/><line class="l" x1="168" y1="38" x2="87" y2="232"/><line class="l" x1="219" y1="69" x2="87" y2="232"/><line class="l" x1="36" y1="130" x2="245" y2="122"/>
<line class="m" x1="36" y1="130" x2="142" y2="141"/><line class="m" x1="108" y1="39" x2="168" y2="38"/><line class="m" x1="59" y1="75" x2="168" y2="38"/>
<line class="d" x1="59" y1="75" x2="142" y2="141" stroke-width="1.2"/><line class="d" x1="142" y1="141" x2="245" y2="122" stroke-width="1.2"/><line class="d" x1="142" y1="141" x2="239" y2="181" stroke-width="1.1"/><line class="d" x1="142" y1="145" x2="237" y2="185" stroke-width="1"/><line class="d" x1="142" y1="141" x2="87" y2="232" stroke-width="1.2"/>
</g>
<g id="F-health-promotion"><circle class="n" cx="108" cy="39" r="8.7"/><text class="nl"><tspan x="101" y="34">HEALTH</tspan><tspan x="108" y="47">PROMOTION</tspan></text></g>
<g id="F-regression-analysis"><circle class="n" cx="168" cy="38" r="9.5"/><text class="nl"><tspan x="166" y="33">REGRESSION</tspan><tspan x="165" y="46">ANALYSIS</tspan></text></g>
<g id="F-workload"><circle class="n" cx="59" cy="75" r="9"/><text class="nl" x="59" y="73">WORKLOAD</text></g>
<g id="F-models-psychological"><circle class="n" cx="219" cy="69" r="9"/><text class="nl"><tspan x="218" y="62">MODELS</tspan><tspan x="218" y="75">PSYCHOLOGICAL</tspan></text></g>
<g id="F-employment"><circle class="n" cx="36" cy="130" r="12"/><text class="nl" x="38" y="128">EMPLOYMENT</text></g>
<g id="F-occupational-diseases"><circle class="n" cx="245" cy="122" r="9.5"/><text class="nl"><tspan x="240" y="115">OCCUPATIONAL</tspan><tspan x="241" y="128">DISEASES</tspan></text></g>
<g id="F-stress"><circle class="n" cx="239" cy="181" r="17"/><text class="nl" x="239" y="180">STRESS</text></g>
<g id="F-mental-health"><circle class="n" cx="47" cy="188" r="11.3"/><text class="nl" x="47" y="187">MENTAL-HEALTH</text></g>
<g id="F-job-satisfaction"><circle class="n" cx="87" cy="232" r="32"/><text class="nl" x="87" y="230">JOB-SATISFACTION</text></g>
<g id="F-major-clinical-study"><circle class="n" cx="202" cy="227" r="9.5"/><text class="nl"><tspan x="202" y="222">MAJOR-CLINICAL</tspan><tspan x="203" y="235">STUDY</tspan></text></g>
<g id="F-social-support"><circle class="n" cx="145" cy="247" r="9.5"/><text class="nl" x="145" y="245">SOCIAL-SUPPORT</text></g>
<g id="F-mental-stress"><circle class="n" cx="142" cy="141" r="9.5"/><text class="cb"><tspan x="139" y="132">MENTAL</tspan><tspan x="142" y="153">STRESS</tspan></text></g>
</g>

<!-- Panel G -->
<g id="panel-G" transform="translate(684 892)">
<rect class="pbox" width="281" height="281"/>
<text class="pl" x="6" y="20">G</text>
<g id="G-connectors">
<line class="l" x1="108" y1="39" x2="141" y2="141"/><line class="l" x1="167" y1="37" x2="141" y2="141"/><line class="l" x1="59" y1="74" x2="141" y2="141"/><line class="l" x1="36" y1="129" x2="141" y2="141"/><line class="l" x1="245" y1="121" x2="141" y2="141"/><line class="l" x1="46" y1="188" x2="141" y2="141"/><line class="l" x1="239" y1="181" x2="141" y2="141"/><line class="l" x1="145" y1="246" x2="141" y2="141"/><line class="l" x1="108" y1="39" x2="167" y2="37"/><line class="l" x1="108" y1="39" x2="145" y2="246"/><line class="l" x1="108" y1="39" x2="87" y2="231"/><line class="l" x1="108" y1="39" x2="202" y2="227"/><line class="l" x1="167" y1="37" x2="145" y2="246"/><line class="l" x1="167" y1="37" x2="239" y2="181"/><line class="l" x1="167" y1="37" x2="218" y2="68"/><line class="l" x1="167" y1="37" x2="202" y2="227"/><line class="l" x1="59" y1="74" x2="218" y2="68"/><line class="l" x1="59" y1="74" x2="239" y2="181"/><line class="l" x1="36" y1="129" x2="218" y2="68"/><line class="l" x1="36" y1="129" x2="239" y2="181"/><line class="l" x1="36" y1="129" x2="87" y2="231"/><line class="l" x1="46" y1="188" x2="239" y2="181"/><line class="l" x1="46" y1="188" x2="145" y2="246"/><line class="l" x1="87" y1="231" x2="145" y2="246"/><line class="l" x1="87" y1="231" x2="202" y2="227"/><line class="l" x1="202" y1="227" x2="239" y2="181"/><line class="l" x1="245" y1="121" x2="239" y2="181"/><line class="l" x1="245" y1="121" x2="145" y2="246"/><line class="l" x1="218" y1="68" x2="239" y2="181"/><line class="l" x1="245" y1="121" x2="87" y2="231"/><line class="l" x1="46" y1="188" x2="218" y2="68"/>
<line class="m" x1="167" y1="37" x2="87" y2="231"/><line class="m" x1="163" y1="37" x2="83" y2="229"/><line class="m" x1="141" y1="141" x2="218" y2="68"/><line class="m" x1="141" y1="141" x2="202" y2="227"/><line class="m" x1="141" y1="141" x2="87" y2="231"/>
<line class="d" x1="36" y1="129" x2="46" y2="188"/>
</g>
<g id="G-surveys"><circle class="n" cx="108" cy="39" r="12.4"/><text class="nl" x="108" y="39">SURVEYS</text></g>
<g id="G-employees"><circle class="n" cx="167" cy="37" r="14.3"/><text class="nl" x="167" y="37">EMPLOYEES</text></g>
<g id="G-occupation"><circle class="n" cx="59" cy="74" r="8.7"/><text class="nl" x="59" y="73">OCCUPATION</text></g>
<g id="G-theoretical-model"><circle class="n" cx="218" cy="68" r="9.4"/><text class="nl"><tspan x="217" y="64">THEORETICAL</tspan><tspan x="218" y="77">MODEL</tspan></text></g>
<g id="G-validity"><circle class="n" cx="36" cy="129" r="9.4"/><text class="nl" x="36" y="128">VALIDITY</text></g>
<g id="G-structural-equation-models"><circle class="n" cx="245" cy="121" r="9.4"/><text class="nl"><tspan x="243" y="107">STRUCTURAL</tspan><tspan x="243" y="120">EQUATION</tspan><tspan x="245" y="133">MODELS</tspan></text></g>
<g id="G-reliability"><circle class="n" cx="46" cy="188" r="8.7"/><text class="nl" x="46" y="186">RELIABILITY</text></g>
<g id="G-behavior"><circle class="n" cx="239" cy="181" r="18"/><text class="nl" x="239" y="181">BEHAVIOR</text></g>
<g id="G-physician"><circle class="n" cx="87" cy="231" r="10"/><text class="nl" x="87" y="230">PHYSICIAN</text></g>
<g id="G-theoretical-study"><circle class="n" cx="202" cy="227" r="9.4"/><text class="nl"><tspan x="200" y="221">THEORETICAL</tspan><tspan x="202" y="234">STUDY</tspan></text></g>
<g id="G-well-being"><circle class="n" cx="145" cy="246" r="13"/><text class="nl" x="145" y="245">WELL-BEING</text></g>
<g id="G-human-experiment"><circle class="n" cx="141" cy="141" r="12.4"/><text class="cl"><tspan x="138" y="131">HUMAN</tspan><tspan x="140" y="152">EXPERIMENT</tspan></text></g>
</g>

<!-- Panel H -->
<g id="panel-H" transform="translate(979 892)">
<rect class="pbox" width="281" height="281"/>
<text class="pl" x="6" y="20">H</text>
<g id="H-connectors">
<line class="l" x1="107" y1="40" x2="141" y2="141"/><line class="l" x1="167" y1="38" x2="141" y2="141"/><line class="l" x1="36" y1="128" x2="141" y2="141"/><line class="l" x1="46" y1="188" x2="141" y2="141"/><line class="l" x1="238" y1="181" x2="141" y2="141"/><line class="l" x1="144" y1="246" x2="141" y2="141"/><line class="l" x1="107" y1="40" x2="167" y2="38"/><line class="l" x1="107" y1="40" x2="59" y2="74"/><line class="l" x1="107" y1="40" x2="245" y2="121"/><line class="l" x1="167" y1="38" x2="46" y2="188"/><line class="l" x1="167" y1="38" x2="218" y2="68"/><line class="l" x1="167" y1="38" x2="144" y2="246"/><line class="l" x1="59" y1="74" x2="46" y2="188"/><line class="l" x1="59" y1="74" x2="36" y2="128"/><line class="l" x1="59" y1="74" x2="201" y2="227"/><line class="l" x1="36" y1="128" x2="46" y2="188"/><line class="l" x1="36" y1="128" x2="144" y2="246"/><line class="l" x1="46" y1="188" x2="87" y2="231"/><line class="l" x1="46" y1="188" x2="144" y2="246"/><line class="l" x1="46" y1="188" x2="201" y2="227"/><line class="l" x1="87" y1="231" x2="144" y2="246"/><line class="l" x1="144" y1="246" x2="201" y2="227"/><line class="l" x1="201" y1="227" x2="238" y2="181"/><line class="l" x1="238" y1="181" x2="245" y2="121"/><line class="l" x1="245" y1="121" x2="218" y2="68"/><line class="l" x1="218" y1="68" x2="46" y2="188"/><line class="l" x1="36" y1="128" x2="87" y2="231"/><line class="l" x1="107" y1="40" x2="46" y2="188"/><line class="l" x1="59" y1="74" x2="144" y2="246"/><line class="l" x1="167" y1="38" x2="201" y2="227"/>
<line class="m" x1="59" y1="74" x2="141" y2="141"/><line class="m" x1="218" y1="68" x2="141" y2="141"/><line class="m" x1="141" y1="141" x2="245" y2="121"/><line class="m" x1="141" y1="141" x2="87" y2="231"/><line class="m" x1="141" y1="141" x2="201" y2="227"/>
<line class="m2" x1="46" y1="188" x2="238" y2="181"/>
</g>
<g id="H-nonbiological-model"><circle class="n" cx="107" cy="40" r="8.7"/><text class="nl"><tspan x="105" y="35">NONBIOLOGICAL</tspan><tspan x="107" y="48">MODEL</tspan></text></g>
<g id="H-canada"><circle class="n" cx="167" cy="38" r="8.7"/><text class="nl" x="176" y="38">CANADA</text></g>
<g id="H-procedures"><circle class="n" cx="59" cy="74" r="9"/><text class="ns" x="58" y="73">PROCEDURES</text></g>
<g id="H-evaluation"><circle class="n" cx="218" cy="68" r="8.7"/><text class="nl" x="218" y="68">EVALUATION</text></g>
<g id="H-information-processing"><circle class="n" cx="36" cy="128" r="9.4"/><text class="nl"><tspan x="36" y="123">INFORMATION</tspan><tspan x="37" y="136">PROCESSING</tspan></text></g>
<g id="H-quality-assurance"><circle class="n" cx="245" cy="121" r="8.7"/><text class="nl"><tspan x="243" y="116">QUALITY</tspan><tspan x="244" y="129">ASSURANCE</tspan></text></g>
<g id="H-methodology"><circle class="n" cx="46" cy="188" r="14.3"/><text class="nl" x="46" y="188">METHODOLOGY</text></g>
<g id="H-research-design"><circle class="n" cx="238" cy="181" r="8.7"/><text class="nl"><tspan x="237" y="175">RESEARCH</tspan><tspan x="238" y="188">DESIGN</tspan></text></g>
<g id="H-medical-education"><circle class="n" cx="87" cy="231" r="8.7"/><text class="nl" x="87" y="231">MEDICAL-EDUCATION</text></g>
<g id="H-interview"><circle class="n" cx="201" cy="227" r="10.5"/><text class="nl" x="201" y="226">INTERVIEW</text></g>
<g id="H-priority-journal"><circle class="n" cx="144" cy="246" r="12"/><text class="nl" x="144" y="245">PRIORITY-JOURNAL</text></g>
<g id="H-program-evaluation"><circle class="n" cx="141" cy="141" r="8.7"/><text class="cl"><tspan x="138" y="132">PROGRAM</tspan><tspan x="141" y="153">EVALUATION</tspan></text></g>
</g>

<!-- Panel I -->
<g id="panel-I" transform="translate(97 1187)">
<rect class="pbox" width="281" height="281"/>
<text class="pl" x="6" y="20">I</text>
<g id="I-connectors">
<line class="l" x1="57" y1="74" x2="140" y2="141"/><line class="l" x1="217" y1="69" x2="140" y2="141"/><line class="l" x1="244" y1="122" x2="140" y2="141"/><line class="l" x1="45" y1="188" x2="140" y2="141"/><line class="l" x1="144" y1="246" x2="140" y2="141"/><line class="l" x1="57" y1="74" x2="244" y2="122"/><line class="l" x1="57" y1="74" x2="35" y2="130"/><line class="l" x1="57" y1="74" x2="86" y2="232"/><line class="l" x1="106" y1="41" x2="166" y2="38"/><line class="l" x1="166" y1="38" x2="217" y2="69"/><line class="l" x1="217" y1="69" x2="244" y2="122"/><line class="l" x1="244" y1="122" x2="237" y2="182"/><line class="l" x1="237" y1="182" x2="200" y2="228"/><line class="l" x1="200" y1="228" x2="144" y2="246"/><line class="l" x1="144" y1="246" x2="86" y2="232"/><line class="l" x1="86" y1="232" x2="45" y2="188"/><line class="l" x1="45" y1="188" x2="35" y2="130"/><line class="l" x1="35" y1="130" x2="86" y2="232"/><line class="l" x1="35" y1="130" x2="244" y2="122"/><line class="l" x1="166" y1="38" x2="35" y2="130"/><line class="l" x1="217" y1="69" x2="45" y2="188"/><line class="l" x1="244" y1="122" x2="86" y2="232"/><line class="l" x1="57" y1="74" x2="200" y2="228"/><line class="l" x1="45" y1="188" x2="144" y2="246"/><line class="l" x1="237" y1="182" x2="86" y2="232"/><line class="l" x1="106" y1="41" x2="244" y2="122"/><line class="l" x1="166" y1="38" x2="144" y2="246"/>
<line class="m" x1="106" y1="41" x2="140" y2="141"/><line class="m" x1="166" y1="38" x2="140" y2="141"/><line class="m" x1="140" y1="141" x2="86" y2="232"/><line class="m" x1="140" y1="141" x2="200" y2="228"/>
<line class="m2" x1="35" y1="130" x2="237" y2="182"/>
<line class="t" x1="166" y1="38" x2="200" y2="228"/>
</g>
<g id="I-procedural-justice"><circle class="n" cx="106" cy="41" r="8.7"/><text class="nl"><tspan x="105" y="36">PROCEDURAL</tspan><tspan x="106" y="48">JUSTICE</tspan></text></g>
<g id="I-human-relation"><circle class="n" cx="166" cy="38" r="10"/><text class="nl"><tspan x="165" y="33">HUMAN</tspan><tspan x="167" y="46">RELATION</tspan></text></g>
<g id="I-cognition"><circle class="n" cx="57" cy="74" r="9.4"/><text class="nl" x="58" y="74">COGNITION</text></g>
<g id="I-model"><circle class="n" cx="217" cy="69" r="9"/><text class="nl" x="218" y="69">MODEL</text></g>
<g id="I-comparative-study"><circle class="n" cx="35" cy="130" r="9.4"/><text class="nl"><tspan x="38" y="123">COMPARATIVE</tspan><tspan x="19" y="136">STUDY</tspan></text></g>
<g id="I-perceptions"><circle class="n" cx="244" cy="122" r="12"/><text class="nl" x="244" y="121">PERCEPTIONS</text></g>
<g id="I-statistics"><circle class="n" cx="45" cy="188" r="8.7"/><text class="nl" x="45" y="187">STATISTICS</text></g>
<g id="I-cultural-factor"><circle class="n" cx="237" cy="182" r="8.7"/><text class="nl"><tspan x="237" y="177">CULTURAL</tspan><tspan x="238" y="190">FACTOR</tspan></text></g>
<g id="I-motivation"><circle class="n" cx="86" cy="232" r="20.7"/><text class="nl" x="86" y="231">MOTIVATION</text></g>
<g id="I-interpersonal-relations"><circle class="n" cx="200" cy="228" r="10"/><text class="nl"><tspan x="200" y="223">INTERPERSONAL</tspan><tspan x="202" y="236">RELATIONS</tspan></text></g>
<g id="I-psychometry"><circle class="n" cx="144" cy="246" r="8.7"/><text class="nl" x="144" y="246">PSYCHOMETRY</text></g>
<g id="I-social-psychology"><circle class="n" cx="140" cy="141" r="11.3"/><text class="cl"><tspan x="137" y="131">SOCIAL</tspan><tspan x="139" y="152">PSYCHOLOGY</tspan></text></g>
</g>

<!-- Panel J -->
<g id="panel-J" transform="translate(390 1187)">
<rect class="pbox" width="281" height="281"/>
<text class="pl" x="6" y="20">J</text>
<g id="J-connectors">
<line class="l" x1="108" y1="40" x2="142" y2="141"/><line class="l" x1="168" y1="37" x2="142" y2="141"/><line class="l" x1="219" y1="68" x2="142" y2="141"/><line class="l" x1="246" y1="122" x2="142" y2="141"/><line class="l" x1="142" y1="141" x2="239" y2="181"/><line class="l" x1="142" y1="141" x2="146" y2="246"/><line class="l" x1="142" y1="141" x2="88" y2="231"/><line class="l" x1="37" y1="129" x2="47" y2="188"/><line class="l" x1="60" y1="74" x2="47" y2="188"/><line class="l" x1="37" y1="129" x2="239" y2="181"/><line class="l" x1="219" y1="68" x2="88" y2="231"/><line class="l" x1="246" y1="122" x2="146" y2="246"/><line class="l" x1="60" y1="74" x2="146" y2="246"/><line class="l" x1="168" y1="37" x2="60" y2="74"/><line class="l" x1="219" y1="68" x2="246" y2="122"/><line class="l" x1="37" y1="129" x2="202" y2="227"/><line class="l" x1="108" y1="40" x2="146" y2="246"/><line class="l" x1="219" y1="68" x2="146" y2="246"/>
<line class="m" x1="60" y1="74" x2="142" y2="141"/><line class="m" x1="37" y1="129" x2="142" y2="141"/><line class="m" x1="142" y1="141" x2="202" y2="227"/>
<line class="d" x1="60" y1="74" x2="37" y2="129" stroke-width="1.4"/>
</g>
<g id="J-industry"><circle class="n" cx="108" cy="40" r="10"/><text class="nl" x="108" y="39">INDUSTRY</text></g>
<g id="J-self-concept"><circle class="n" cx="168" cy="37" r="8.7"/><text class="nl"><tspan x="165" y="33">SELF</tspan><tspan x="168" y="46">CONCEPT</tspan></text></g>
<g id="J-human-engineering"><circle class="n" cx="60" cy="74" r="10"/><text class="nl"><tspan x="59" y="68">HUMAN</tspan><tspan x="60" y="81">ENGINEERING</tspan></text></g>
<g id="J-politics"><circle class="n" cx="219" cy="68" r="9.4"/><text class="nl" x="219" y="68">POLITICS</text></g>
<g id="J-ergonomics"><circle class="n" cx="37" cy="129" r="10.5"/><text class="nl" x="39" y="129">ERGONOMICS</text></g>
<g id="J-work"><circle class="n" cx="246" cy="122" r="11.3"/><text class="nl" x="246" y="121">WORK</text></g>
<g id="J-nurse"><circle class="n" cx="239" cy="181" r="9.4"/><text class="nl" x="239" y="180">NURSE</text></g>
<g id="J-task-performance"><circle class="n" cx="47" cy="188" r="9.4"/><text class="nl"><tspan x="46" y="182">TASK</tspan><tspan x="47" y="195">PERFORMANCE</tspan></text></g>
<g id="J-students"><circle class="n" cx="88" cy="231" r="9.4"/><text class="nl" x="88" y="230">STUDENTS</text></g>
<g id="J-prevention"><circle class="n" cx="202" cy="227" r="8.7"/><text class="nl" x="202" y="226">PREVENTION</text></g>
<g id="J-attitudes"><circle class="n" cx="146" cy="246" r="12.4"/><text class="nl" x="146" y="245">ATTITUDES</text></g>
<g id="J-normal-human"><circle class="n" cx="142" cy="141" r="10"/><text class="cl"><tspan x="140" y="133">NORMAL</tspan><tspan x="142" y="153">HUMAN</tspan></text></g>
</g>

<!-- Panel K -->
<g id="panel-K" transform="translate(684 1187)">
<rect class="pbox" width="281" height="281"/>
<text class="pl" x="6" y="20">K</text>
<g id="K-connectors">
<line class="l" x1="108" y1="40" x2="141" y2="141"/><line class="l" x1="59" y1="74" x2="87" y2="232"/><line class="l" x1="245" y1="122" x2="141" y2="141"/><line class="l" x1="141" y1="141" x2="87" y2="232"/><line class="l" x1="141" y1="141" x2="145" y2="246"/><line class="l" x1="108" y1="40" x2="202" y2="227"/><line class="l" x1="218" y1="68" x2="239" y2="181"/><line class="l" x1="167" y1="38" x2="87" y2="232"/><line class="l" x1="46" y1="187" x2="167" y2="38"/><line class="l" x1="59" y1="74" x2="141" y2="141"/><line class="l" x1="218" y1="68" x2="87" y2="232"/>
<line class="m" x1="141" y1="141" x2="36" y2="129"/><line class="m" x1="141" y1="141" x2="218" y2="68"/><line class="m" x1="143" y1="146" x2="220" y2="72"/><line class="m" x1="141" y1="141" x2="46" y2="187"/><line class="m" x1="46" y1="187" x2="218" y2="68"/><line class="m" x1="141" y1="141" x2="239" y2="181"/><line class="m" x1="141" y1="141" x2="202" y2="227"/><line class="m" x1="167" y1="38" x2="141" y2="141"/><line class="m" x1="167" y1="38" x2="202" y2="227"/>
</g>
<g id="K-research"><circle class="n" cx="108" cy="40" r="12"/><text class="nl" x="108" y="38">RESEARCH</text></g>
<g id="K-work-environment"><circle class="n" cx="167" cy="38" r="9.4"/><text class="nl"><tspan x="165" y="38">WORK</tspan><tspan x="167" y="51">ENVIRONMENT</tspan></text></g>
<g id="K-clinical-article"><circle class="n" cx="59" cy="74" r="8.7"/><text class="nl" x="59" y="73">CLINICAL-ARTICLE</text></g>
<g id="K-occupational-health"><circle class="n" cx="218" cy="68" r="12"/><text class="nl"><tspan x="217" y="63">OCCUPATIONAL</tspan><tspan x="218" y="76">HEALTH</tspan></text></g>
<g id="K-bullying"><circle class="n" cx="36" cy="129" r="8.7"/><text class="nl" x="36" y="129">BULLYING</text></g>
<g id="K-intentions"><circle class="n" cx="245" cy="122" r="8.7"/><text class="nl" x="245" y="122">INTENTIONS</text></g>
<g id="K-satisfaction"><circle class="n" cx="46" cy="187" r="9.4"/><text class="nl" x="46" y="186">SATISFACTION</text></g>
<g id="K-job-stress"><circle class="n" cx="239" cy="181" r="9.4"/><text class="nl" x="239" y="179">JOB-STRESS</text></g>
<g id="K-qualitative-research"><circle class="n" cx="87" cy="232" r="11.3"/><text class="nl" x="87" y="229">QUALITATIVE-RESEARCH</text></g>
<g id="K-conceptual-framework"><circle class="n" cx="202" cy="227" r="9"/><text class="nl"><tspan x="200" y="222">CONCEPTUAL</tspan><tspan x="200" y="234">FRAMEWORK</tspan></text></g>
<g id="K-productivity"><circle class="n" cx="145" cy="246" r="10"/><text class="nl" x="145" y="244">PRODUCTIVITY</text></g>
<g id="K-workplace"><circle class="n" cx="141" cy="141" r="17.7"/><text class="cl" x="141" y="141">WORKPLACE</text></g>
</g>

<!-- Panel L -->
<g id="panel-L" transform="translate(979 1187)">
<rect class="pbox" width="281" height="281"/>
<text class="pl" x="6" y="20">L</text>
<g id="L-connectors">
<line class="lg" x1="86" y1="50" x2="210" y2="60"/><line class="lg" x1="86" y1="50" x2="140" y2="141"/><line class="lg" x1="86" y1="50" x2="132" y2="246"/><line class="lg" x1="210" y1="60" x2="38" y2="165"/><line class="lg" x1="210" y1="60" x2="239" y2="181"/><line class="lg" x1="38" y1="165" x2="140" y2="141"/><line class="lg" x1="38" y1="165" x2="132" y2="246"/><line class="lg" x1="140" y1="141" x2="239" y2="181"/><line class="lg" x1="239" y1="181" x2="132" y2="246"/>
<line class="tt" x1="210" y1="60" x2="140" y2="141"/><line class="tt" x1="210" y1="60" x2="132" y2="246"/><line class="tt" x1="140" y1="141" x2="130" y2="246"/><line class="tt" x1="143" y1="141" x2="135" y2="246"/><line class="t" x1="38" y1="165" x2="239" y2="181"/>
</g>
<g id="L-psychologic-test"><circle class="n" cx="86" cy="50" r="9.4"/><text class="nl" x="86" y="49">PSYCHOLOGIC-TEST</text></g>
<g id="L-armed-forces-personnel-psychology"><circle class="n" cx="210" cy="60" r="14"/><text class="nl"><tspan x="208" y="55">ARMED-FORCES</tspan><tspan x="209" y="67">PERSONNEL/PSYCHOLOGY</tspan></text></g>
<g id="L-mental-disorders"><circle class="n" cx="38" cy="165" r="9"/><text class="nl"><tspan x="32" y="159">MENTAL</tspan><tspan x="38" y="172">DISORDERS</tspan></text></g>
<g id="L-mental-disease"><circle class="n" cx="239" cy="181" r="9"/><text class="nl"><tspan x="232" y="175">MENTAL</tspan><tspan x="238" y="187">DISEASE</tspan></text></g>
<g id="L-soldier"><circle class="n" cx="132" cy="246" r="14"/><text class="nl" x="132" y="246">SOLDIER</text></g>
<g id="L-military-personnel"><circle class="n" cx="140" cy="141" r="13"/><text class="cl" x="140" y="141" font-size="16.5">MILITARY-PERSONNEL</text></g>
</g>

<g id="caption">
<text class="cap" x="22" y="1524" textLength="1278" lengthAdjust="spacing"><tspan class="b">FIGURE 3 |</tspan> Strategic diagram and thematic network structure of the motor themes (1919-2019). <tspan class="b">(A)</tspan> middle aged, <tspan class="b">(B)</tspan> management, <tspan class="b">(C)</tspan> healthcare delivery, <tspan class="b">(D)</tspan></text>
<text class="cap" x="22" y="1550" textLength="1289" lengthAdjust="spacing">cooperative behavior, <tspan class="b">(E)</tspan> societies and institutions, <tspan class="b">(F)</tspan> mental stress, <tspan class="b">(G)</tspan> human experiment, <tspan class="b">(H)</tspan> program evaluation, <tspan class="b">(I)</tspan> social psychology, <tspan class="b">(J)</tspan> normal human, <tspan class="b">(K)</tspan></text>
<text class="cap" x="22" y="1575">workplace, and <tspan class="b">(L)</tspan> military personnel.</text>
</g>
</svg>
